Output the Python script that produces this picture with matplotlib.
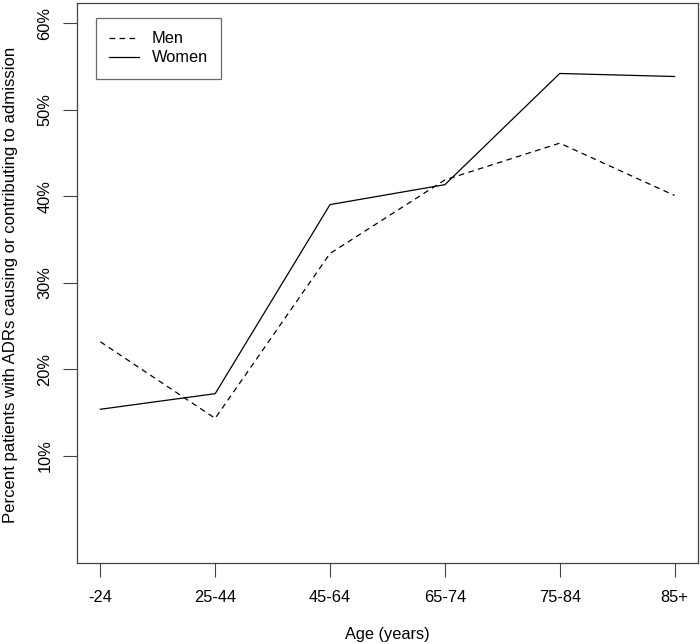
import matplotlib
matplotlib.use("Agg")
import matplotlib.pyplot as plt

ages = ["-24", "25-44", "45-64", "65-74", "75-84", "85+"]
men = [23.2, 14.35, 33.4, 41.9, 46.15, 40.1]
women = [15.4, 17.2, 39.05, 41.35, 54.2, 53.85]
yticks = [10, 20, 30, 40, 50, 60]

plt.rcParams['font.family'] = ['Liberation Sans', 'DejaVu Sans']
fs = 11.8

fig = plt.figure(figsize=(7, 6.44), dpi=100)
ax = fig.add_axes([0.1105, 0.1253, 0.886, 0.8708])

x = list(range(1, len(ages) + 1))
ax.plot(x, men, color='black', lw=0.9, linestyle=(0, (4.5, 3.5)), label='Men')
ax.plot(x, women, color='black', lw=0.9, label='Women')

ax.set_xlim(0.8, 6.2)
ax.set_ylim(-2.4, 62.4)
ax.set_xticks(x)
ax.set_xticklabels(ages, fontsize=fs)
ax.set_yticks(yticks)
ax.set_yticklabels([f"{v}%" for v in yticks], fontsize=fs, rotation=90, va='center')
ax.tick_params(axis='both', length=10, width=0.8, color='#444444')
ax.tick_params(axis='x', pad=9)
ax.tick_params(axis='y', pad=8)
for s in ax.spines.values():
    s.set_linewidth(0.9)
    s.set_color('#444444')

ax.set_xlabel('Age (years)', fontsize=fs, labelpad=16)
ax.set_ylabel('Percent patients with ADRs causing or contributing to admission', fontsize=12.1)
ax.yaxis.set_label_coords(-0.096, 0.497)

leg = ax.legend(loc='upper left', bbox_to_anchor=(0.030, 0.972), borderaxespad=0,
                fancybox=False, edgecolor='#444444', fontsize=fs, handlelength=1.8,
                handletextpad=0.8, borderpad=0.8, labelspacing=0.25)
leg.get_frame().set_linewidth(0.9)

fig.savefig('out.png', dpi=100)
